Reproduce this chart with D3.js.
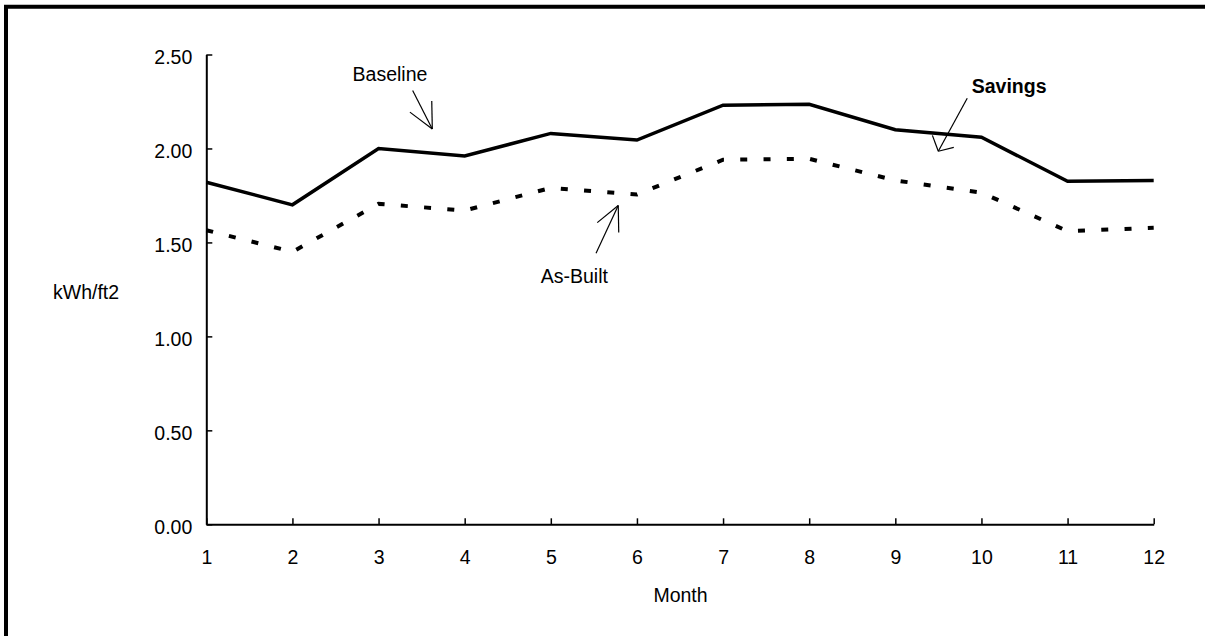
<!DOCTYPE html>
<html>
<head>
<meta charset="utf-8">
<script src="https://cdn.jsdelivr.net/npm/d3@7"></script>
<style>
  html, body { margin: 0; padding: 0; background: #fff; }
  svg { display: block; font-family: Arial, "Liberation Sans", sans-serif; }
</style>
</head>
<body>
<svg id="chart" width="1205" height="636"></svg>
<script>
// ---- data ----
const months = [1, 2, 3, 4, 5, 6, 7, 8, 9, 10, 11, 12];
const baseline = [1.82, 1.70, 2.00, 1.96, 2.08, 2.045, 2.23, 2.235, 2.10, 2.06, 1.825, 1.83];
const asBuilt  = [1.565, 1.45, 1.705, 1.67, 1.79, 1.755, 1.94, 1.945, 1.83, 1.765, 1.56, 1.578];
const yTicks = [0, 0.5, 1.0, 1.5, 2.0, 2.5];
const yLabel = "kWh/ft2";
const xLabel = "Month";
// annotations in data units: text anchor, arrow start, arrow tip
const annotations = [
  { text: "Baseline", bold: false, anchor: "middle", tx: 3.133, ty: 2.359, sx: 3.396, sy: 2.308, ex: 3.624, ey: 2.104, arms: [[26, 28], [-26, 28]] },
  { text: "Savings",  bold: true,  anchor: "start",  tx: 9.887, ty: 2.294, sx: 9.835, sy: 2.267, ex: 9.499, ey: 1.985, arms: [[47, 16], [-49, 17]] },
  { text: "As-Built", bold: false, anchor: "middle", tx: 5.273, ty: 1.283, sx: 5.525, sy: 1.442, ex: 5.783, ey: 1.696, arms: [[26, 27], [-26, 27]] }
];

// ---- layout ----
const svg = d3.select("#chart");
const x = d3.scaleLinear().domain([1, 12]).range([206.3, 1153.7]);
const y = d3.scaleLinear().domain([0, 2.5]).range([524.3, 54.5]);

// frame (left + top thick border)
svg.append("path")
  .attr("d", "M6,640 V6.7 H1210")
  .attr("fill", "none").attr("stroke", "#000").attr("stroke-width", 4);

// axes
const yAxis = d3.axisLeft(y).tickValues(yTicks).tickFormat(d3.format(".2f"))
  .tickSizeInner(-6).tickSizeOuter(0).tickPadding(14);
const gy = svg.append("g").attr("transform", `translate(${x(1)},0)`).call(yAxis);
gy.selectAll("text").attr("dy", "0.32em").attr("y", 3);

const xAxis = d3.axisBottom(x).tickValues(months).tickFormat(d3.format("d"))
  .tickSizeInner(-6).tickSizeOuter(0).tickPadding(26);
const gx = svg.append("g").attr("transform", `translate(0,${y(0)})`).call(xAxis);

[gx, gy].forEach(g => {
  g.select(".domain").attr("stroke", "#000").attr("stroke-width", 2);
  g.selectAll(".tick line").attr("stroke", "#000").attr("stroke-width", 1.5);
  g.selectAll("text").attr("fill", "#000").attr("font-size", 19.5)
    .attr("font-family", "Arial, 'Liberation Sans', sans-serif");
});

// axis titles
svg.append("text").attr("x", 53).attr("y", 299).attr("font-size", 19.5).attr("fill", "#000").text(yLabel);
svg.append("text").attr("x", (x(1) + x(12)) / 2 + 0.5).attr("y", 602).attr("text-anchor", "middle")
  .attr("font-size", 19.5).attr("fill", "#000").text(xLabel);

// lines
const line = d3.line().x((d, i) => x(months[i])).y(d => y(d));
svg.append("path").datum(baseline).attr("d", line)
  .attr("fill", "none").attr("stroke", "#000").attr("stroke-width", 3.5).attr("stroke-linejoin", "miter");
svg.append("path").datum(asBuilt).attr("d", line)
  .attr("fill", "none").attr("stroke", "#000").attr("stroke-width", 4)
  .attr("stroke-dasharray", "7,16.3").attr("stroke-linecap", "butt");

// annotations
annotations.forEach(a => {
  const sx = x(a.sx), sy = y(a.sy), ex = x(a.ex), ey = y(a.ey);
  svg.append("line").attr("x1", sx).attr("y1", sy).attr("x2", ex).attr("y2", ey)
    .attr("stroke", "#000").attr("stroke-width", 1.2);
  const back = Math.atan2(sy - ey, sx - ex);
  a.arms.forEach(([deg, len]) => {
    const ang = back + deg * Math.PI / 180;
    svg.append("line").attr("x1", ex).attr("y1", ey)
      .attr("x2", ex + len * Math.cos(ang)).attr("y2", ey + len * Math.sin(ang))
      .attr("stroke", "#000").attr("stroke-width", 1.2);
  });
  svg.append("text").attr("x", x(a.tx)).attr("y", y(a.ty)).attr("text-anchor", a.anchor)
    .attr("font-size", 19.5).attr("font-weight", a.bold ? "bold" : "normal").attr("fill", "#000")
    .text(a.text);
});
</script>
</body>
</html>
